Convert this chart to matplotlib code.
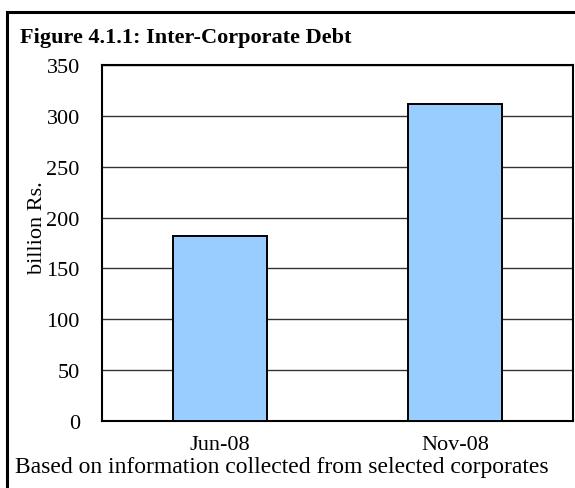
import matplotlib
matplotlib.use("Agg")
import matplotlib.pyplot as plt
from matplotlib.patches import Rectangle

# inter-corporate debt, billion Rs.
periods = ['Jun-08', 'Nov-08']
debt = [182, 312]
yticks = [0, 50, 100, 150, 200, 250, 300, 350]

plt.rcParams['font.family'] = ['Liberation Serif', 'DejaVu Serif']

fig = plt.figure(figsize=(5.75, 4.89), dpi=100)

# outer frame of the figure box
fig.patches.append(Rectangle((7 / 575, -0.1), 1.2, 1 - 13 / 489 + 0.1,
                             transform=fig.transFigure, fill=False,
                             edgecolor='black', linewidth=2.2))

ax = fig.add_axes([102 / 575, 67 / 489, 471 / 575, 356 / 489])
x = range(len(periods))
ax.bar(x, debt, width=0.4, color='#99CCFF', edgecolor='black', linewidth=1.4, zorder=3)
ax.set_xlim(-0.5, 1.5)
ax.set_ylim(0, 350)
ax.set_yticks(yticks)
ax.set_xticks(list(x))
ax.set_xticklabels(periods)
ax.yaxis.grid(True, color='#333333', linewidth=1.0, zorder=0)
ax.tick_params(axis='both', length=0, labelsize=16)
ax.tick_params(axis='y', pad=16)
ax.tick_params(axis='x', pad=10)
for s in ax.spines.values():
    s.set_linewidth(1.5)
ax.set_ylabel('billion Rs.', fontsize=16)
ax.yaxis.set_label_coords(-0.117, 0.545)

fig.text(20 / 575, 1 - 43 / 489, 'Figure 4.1.1: Inter-Corporate Debt',
         fontsize=16, fontweight='bold', va='baseline', ha='left')
fig.text(15 / 575, 1 - 473 / 489, 'Based on information collected from selected corporates',
         fontsize=17, va='baseline', ha='left')

fig.savefig('out.png', dpi=100)
